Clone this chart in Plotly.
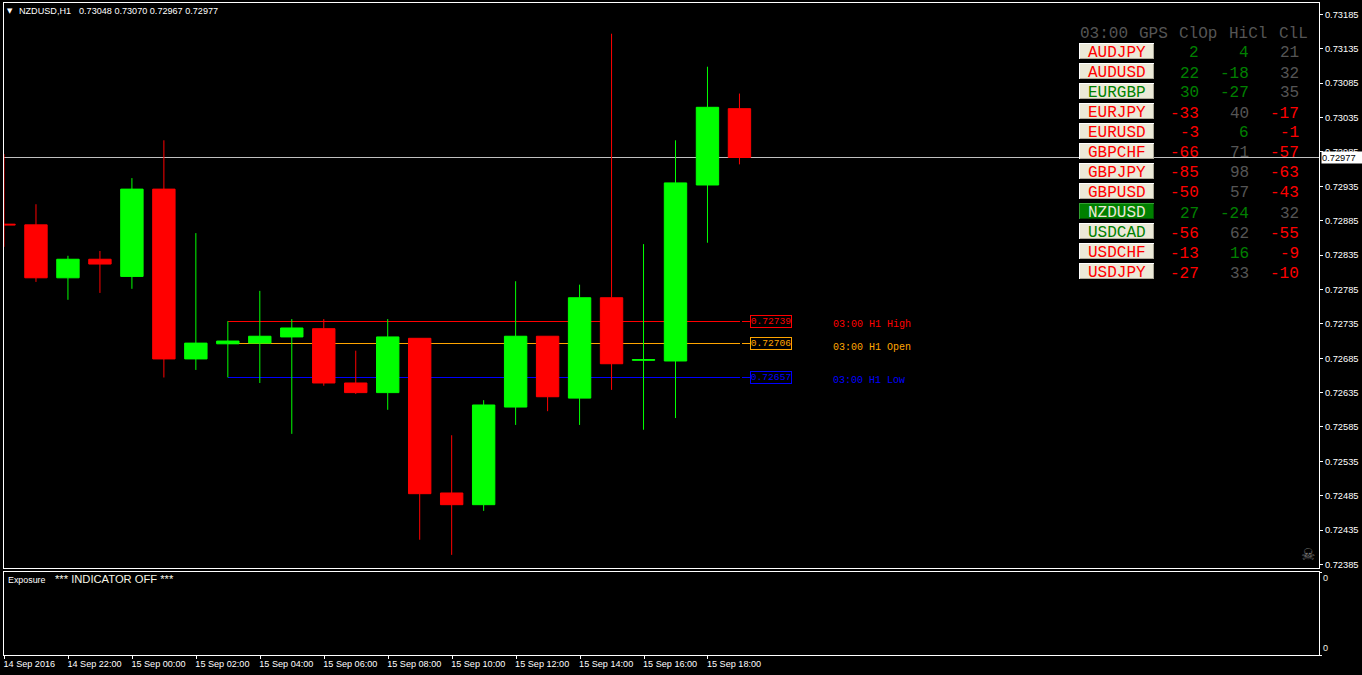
import plotly.graph_objects as go

W, H = 1362, 675
H_EFF = 673.0

# ---- data ----
opens  = [0.72880,0.72879,0.72802,0.72829,0.72804,0.72931,0.72684,0.72706,0.72707,0.72716,0.72728,0.72649,
          0.72635,0.72714,0.72489,0.72472,0.72614,0.72717,0.72627,0.72773,0.72682,0.72681,0.72937,0.73048]
highs  = [0.72982,0.72909,0.72834,0.72841,0.72947,0.73002,0.72867,0.72739,0.72783,0.72742,0.72742,0.72696,
          0.72742,0.72714,0.72573,0.72624,0.72797,0.72717,0.72792,0.73157,0.72851,0.73002,0.73109,0.73070]
lows   = [0.72847,0.72796,0.72770,0.72780,0.72786,0.72657,0.72668,0.72657,0.72649,0.72575,0.72645,0.72633,
          0.72610,0.72421,0.72399,0.72463,0.72588,0.72608,0.72588,0.72639,0.72581,0.72598,0.72853,0.72967]
closes = [0.72879,0.72802,0.72829,0.72822,0.72931,0.72684,0.72707,0.72710,0.72717,0.72729,0.72649,0.72635,
          0.72716,0.72488,0.72472,0.72617,0.72717,0.72629,0.72773,0.72677,0.72683,0.72940,0.73050,0.72977]
bar_index = list(range(len(opens)))

date_ticks = [0,2,4,6,8,10,12,14,16,18,20,22]
date_labels = ["14 Sep 2016","14 Sep 22:00","15 Sep 00:00","15 Sep 02:00","15 Sep 04:00","15 Sep 06:00",
               "15 Sep 08:00","15 Sep 10:00","15 Sep 12:00","15 Sep 14:00","15 Sep 16:00","15 Sep 18:00"]

level_start_bar = 7
level_end_bar = 23
level_names  = ["03:00 H1 High","03:00 H1 Open","03:00 H1 Low"]
level_values = [0.72739,0.72706,0.72657]
level_colors = ["#ff0000","#ffa500","#0000ff"]
last_price = 0.72977

pairs = ["AUDJPY","AUDUSD","EURGBP","EURJPY","EURUSD","GBPCHF","GBPJPY","GBPUSD","NZDUSD","USDCAD","USDCHF","USDJPY"]
clop  = [2,22,30,-33,-3,-66,-85,-50,27,-56,-13,-27]
hicl  = [4,-18,-27,40,6,71,98,57,-24,62,16,33]
cll   = [21,32,35,-17,-1,-57,-63,-43,32,-55,-9,-10]
G, R, N = "#008000", "#ff0000", "#555555"
pair_colors = [R,R,G,R,R,R,R,R,"#ece9d8",G,R,R]
clop_colors = [G,G,G,R,R,R,R,R,G,R,R,R]
hicl_colors = [G,G,G,N,G,N,N,N,G,N,G,N]
cll_colors  = [N,N,N,R,R,R,R,R,N,R,R,R]
table_head  = ["03:00","GPS","ClOp","HiCl","ClL"]

# ---- layout helpers (pixels -> paper) ----
def px(x): return x / W
def py(y): return 1 - y / H_EFF

PL, PR, PT, PB = 3, 1319, 3, 568
SUBT, SUBB = 572, 655
SP = 32.0
Y_TOP, Y_BOT = 0.732017, 0.723799
xr = [0.0, (PR-PL)/SP]
xr2 = [-0.5/SP, (PR-PL-0.5)/SP]

UI = "Liberation Sans"
MONO = "Liberation Mono"
annos, shapes = [], []

def text(x, y, t, color="#ffffff", size=9.1, fam=UI, anchor="left", **kw):
    annos.append(dict(xref="paper", yref="paper", x=px(x), y=py(y), text=t, showarrow=False,
                      xanchor=anchor, yanchor="middle", font=dict(family=fam, size=size, color=color),
                      borderpad=0, borderwidth=0, **kw))

def rect(x0, y0, x1, y1, color, layer="above"):
    shapes.append(dict(type="rect", xref="paper", yref="paper", x0=px(x0), x1=px(x1), y0=py(y0), y1=py(y1),
                       fillcolor=color, line=dict(width=0), layer=layer))

# close line and level lines below the candles
shapes.append(dict(type="line", xref="paper", yref="y", x0=px(PL), x1=px(PR), y0=last_price, y1=last_price,
                   line=dict(color="#c0c0c0", width=1), layer="below"))
for val, col in zip(level_values, level_colors):
    shapes.append(dict(type="line", xref="x2", yref="y", x0=level_start_bar, x1=level_end_bar, y0=val, y1=val,
                       line=dict(color=col, width=1), layer="below"))
    shapes.append(dict(type="line", xref="x2", yref="y", x0=level_end_bar+0.05, x1=level_end_bar+0.34, y0=val, y1=val,
                       line=dict(color=col, width=1), layer="below"))
    annos.append(dict(xref="paper", yref="y", x=px(750), y=val, text="%.5f" % val, showarrow=False,
                      xanchor="left", yanchor="middle", width=40, height=11, align="center", valign="middle",
                      bordercolor=col, borderwidth=1, borderpad=0,
                      font=dict(family=MONO, size=9.6, color=col)))

for name, val, col in zip(level_names, level_values, level_colors):
    annos.append(dict(xref="paper", yref="y", x=px(831), y=val, yshift=-3.5, text=name, showarrow=False,
                      xanchor="left", yanchor="middle", font=dict(family=MONO, size=10, color=col)))

# table header
for t, x in zip(table_head, [1080,1139,1179,1229,1279]):
    text(x, 34, t, color="#555555", size=16, fam=MONO)

# table rows
for i, pair in enumerate(pairs):
    y0 = 43 + 20*i
    nz = pair == "NZDUSD"
    rect(1079, y0, 1154, y0+16, "#ffffff" if not nz else "#33a033")
    rect(1080, y0+1, 1154, y0+16, "#aca899" if not nz else "#005000")
    rect(1080, y0+1, 1153, y0+15, "#ece9d8" if not nz else "#008000")
    text(1116.5, y0+10.3, pair, color=pair_colors[i], size=16, fam=MONO, anchor="center")
    text(1198.5, y0+10.5, str(clop[i]), color=clop_colors[i], size=16, fam=MONO, anchor="right")
    text(1248.5, y0+10.5, str(hicl[i]), color=hicl_colors[i], size=16, fam=MONO, anchor="right")
    text(1298.5, y0+10.5, str(cll[i]), color=cll_colors[i], size=16, fam=MONO, anchor="right")

# chart title and small marker
text(18, 11, "NZDUSD,H1")
text(78, 11, "%.5f %.5f %.5f %.5f" % (opens[-1], highs[-1], lows[-1], closes[-1]))
text(9, 11, "▼", size=7, anchor="center", fam="DejaVu Sans")
text(1308, 554, "☠", color="#777777", size=16, fam="DejaVu Sans", anchor="center")

# sub-window
text(7, 580, "Exposure", size=8.9)
text(54, 579, "*** INDICATOR OFF ***", size=11.2, color="#f4f4e4")
text(1323, 578, "0", color="#f4f0e0")
text(1323, 648, "0", color="#f4f0e0")

# last price tag
annos.append(dict(xref="paper", yref="y", x=px(1321), y=last_price, text="%.5f" % last_price, showarrow=False,
                  xanchor="left", yanchor="middle", width=41, height=11, align="left", bgcolor="#ffffff",
                  font=dict(family=UI, size=9.3, color="#000000"), borderpad=0))

fig = go.Figure()
fig.add_trace(go.Candlestick(
    x=bar_index, open=opens, high=highs, low=lows, close=closes, whiskerwidth=0,
    increasing=dict(line=dict(color="#00ff00", width=1), fillcolor="#00ff00"),
    decreasing=dict(line=dict(color="#ff0000", width=1), fillcolor="#ff0000"),
    xaxis="x", yaxis="y", showlegend=False))
fig.add_trace(go.Scatter(x=[], y=[], xaxis="x2", yaxis="y2", showlegend=False))

axis_common = dict(showline=True, linecolor="#ffffff", linewidth=1, mirror=True, showgrid=False, zeroline=False,
                   color="#ffffff")
fig.update_layout(
    width=W, height=H, margin=dict(l=0, r=0, t=0, b=0),
    paper_bgcolor="#000000", plot_bgcolor="#000000", showlegend=False, boxgap=0,
    xaxis=dict(domain=[px(PL), px(PR)], range=xr, anchor="y", rangeslider=dict(visible=False),
               showticklabels=False, ticks="", **axis_common),
    yaxis=dict(domain=[py(PB), py(PT)], range=[Y_BOT, Y_TOP], anchor="x", side="right", tick0=0.72385, dtick=0.0005,
               tickformat=".5f", ticks="outside", ticklen=3, tickcolor="#ffffff", ticklabelstandoff=0,
               tickfont=dict(family=UI, size=9.3, color="#ffffff"), **axis_common),
    xaxis2=dict(domain=[px(PL), px(PR)], range=xr2, anchor="y2", tickmode="array", tickvals=date_ticks,
                ticktext=date_labels, ticks="outside", ticklen=3, tickcolor="#ffffff", tickangle=0,
                ticklabelposition="outside right", ticklabelshift=-2,
                tickfont=dict(family=UI, size=9.1, color="#ffffff"), **axis_common),
    yaxis2=dict(domain=[py(SUBB), py(SUBT)], range=[0, 1], anchor="x2", side="right", tickmode="array",
                tickvals=[0, 1], ticktext=["", ""], ticks="outside", ticklen=2, tickcolor="#ffffff", **axis_common),
    annotations=annos, shapes=shapes,
)
fig.write_html("out.html", config=dict(displayModeBar=False),
               post_script="document.body.style.margin='0';document.body.style.background='#000';document.body.style.overflow='hidden';"
                           "document.querySelectorAll('.shapelayer path').forEach(function(p){p.style.shapeRendering='crispEdges';});")
